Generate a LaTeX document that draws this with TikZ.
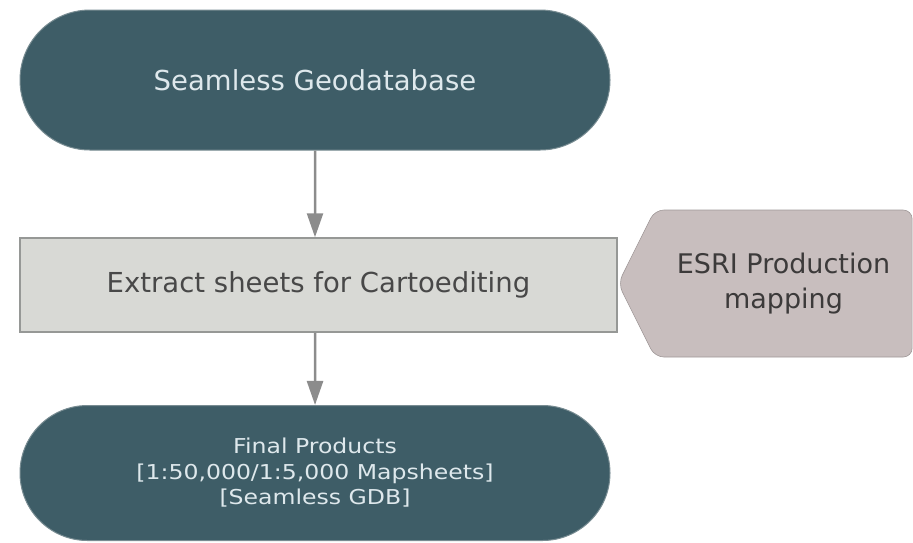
\documentclass[tikz,border=0pt]{standalone}
\usepackage{fontspec}
\setmainfont{DejaVu Sans}
\newfontfamily\widesans{DejaVu Sans}[FakeStretch=1.15]
\usepackage{tikz}
\usetikzlibrary{
  positioning,
  shapes.misc,
  shapes.symbols,
  arrows.meta
}
\definecolor{pillteal}{RGB}{62,93,103}
\definecolor{pilledge}{RGB}{120,140,146}
\definecolor{pilltext}{RGB}{222,232,236}
\definecolor{boxfill}{RGB}{216,217,213}
\definecolor{boxedge}{RGB}{150,152,150}
\definecolor{boxtext}{RGB}{72,72,72}
\definecolor{toolfill}{RGB}{200,190,190}
\definecolor{tooltext}{RGB}{60,58,58}
\definecolor{flowgray}{RGB}{140,140,140}

\begin{document}
\begin{tikzpicture}[x=1pt,y=-1pt,
    pill/.style={rounded rectangle,fill=pillteal,draw=pilledge,line width=1pt,
      minimum width=590pt,minimum height=140pt,text=pilltext,inner sep=0pt,align=center},
    stepbox/.style={rectangle,fill=boxfill,draw=boxedge,line width=1.5pt,
      minimum width=597pt,minimum height=94pt,text=boxtext,inner sep=0pt},
    tool/.style={signal,signal to=west,signal pointer angle=127,fill=toolfill,
      draw=toolfill!80!black,line width=0.6pt,rounded corners=9pt,
      minimum width=294pt,minimum height=147pt,text=tooltext,inner sep=0pt,align=center},
    flow/.style={-{Triangle[width=16pt,length=24pt]},draw=flowgray,fill=flowgray!85!black,line width=2.5pt}
  ]
		\useasboundingbox (0,0) rectangle (913,542);
		\node [pill,font=\fontsize{27.5}{32}\selectfont] (gdb) at (315,80) {Seamless Geodatabase};
		\node [stepbox,font=\fontsize{27.5}{32}\selectfont] (extract) at (318.5,285) {Extract sheets for Cartoediting};
		\node [tool,font=\fontsize{27}{35}\selectfont] (esri) at (783.5,283.5) {ESRI Production\\mapping};
		\node [pill,minimum height=135pt,font=\widesans\fontsize{20.5}{25.5}\selectfont] (final) at (315,473)
		    {Final Products\\{}[1:50,000/1:5,000 Mapsheets]\\{}[Seamless GDB]};
		\draw [flow] (gdb) -- (gdb |- extract.north);
		\draw [flow] (final |- extract.south) -- (final);
	\end{tikzpicture}
\end{document}
